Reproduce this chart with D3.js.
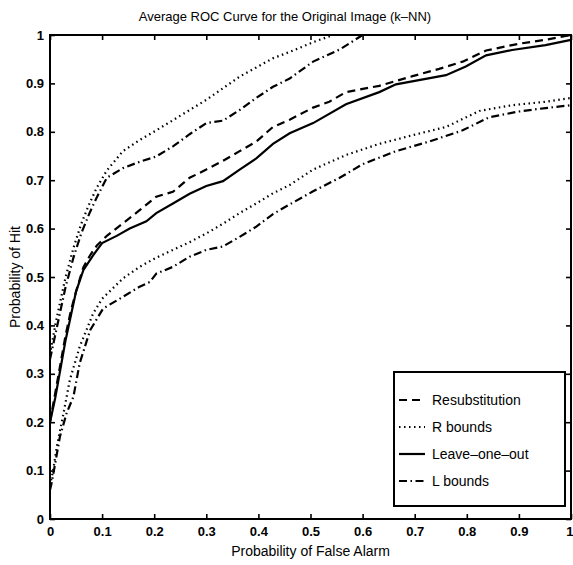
<!DOCTYPE html>
<html>
<head>
<style>
  body { margin: 0; background: #fff; font-family: "Liberation Sans", Arial, sans-serif; }
  svg text { font-family: "Liberation Sans", Arial, sans-serif; fill: #000; }
</style>
</head>
<body>
<div id="chart"></div>
<script src="https://d3js.org/d3.v7.min.js"></script>
<script>
// values: [probability of false alarm, probability of hit]
var resubstitution = [[0,0.2],[0.01,0.26],[0.02,0.32],[0.03,0.38],[0.04,0.43],[0.05,0.47],[0.064,0.52],[0.077,0.545],[0.09,0.565],[0.109,0.585],[0.14,0.611],[0.172,0.638],[0.204,0.666],[0.236,0.676],[0.268,0.705],[0.3,0.722],[0.332,0.74],[0.364,0.76],[0.396,0.78],[0.428,0.81],[0.46,0.825],[0.505,0.85],[0.536,0.862],[0.568,0.882],[0.632,0.895],[0.696,0.915],[0.747,0.93],[0.792,0.945],[0.837,0.968],[0.9,0.982],[0.95,0.99],[1,1]];
var leaveOneOut = [[0,0.2],[0.01,0.25],[0.02,0.31],[0.03,0.37],[0.04,0.42],[0.05,0.47],[0.064,0.514],[0.083,0.545],[0.1,0.57],[0.128,0.585],[0.153,0.6],[0.185,0.615],[0.204,0.632],[0.236,0.652],[0.268,0.672],[0.3,0.688],[0.332,0.698],[0.364,0.722],[0.396,0.745],[0.428,0.775],[0.46,0.797],[0.505,0.818],[0.568,0.857],[0.632,0.882],[0.664,0.898],[0.76,0.917],[0.798,0.935],[0.837,0.958],[0.887,0.969],[0.951,0.979],[1,0.99]];
var rUpper = [[0,0.34],[0.01,0.4],[0.019,0.446],[0.03,0.5],[0.045,0.56],[0.06,0.61],[0.075,0.65],[0.09,0.685],[0.109,0.72],[0.14,0.76],[0.172,0.783],[0.204,0.803],[0.236,0.824],[0.268,0.845],[0.3,0.866],[0.332,0.89],[0.364,0.914],[0.396,0.933],[0.428,0.952],[0.46,0.965],[0.505,0.985],[0.543,1]];
var rLower = [[0,0.07],[0.006,0.1],[0.013,0.149],[0.026,0.219],[0.038,0.287],[0.057,0.356],[0.083,0.425],[0.1,0.455],[0.14,0.497],[0.172,0.521],[0.204,0.54],[0.236,0.556],[0.268,0.572],[0.3,0.59],[0.332,0.61],[0.364,0.632],[0.396,0.652],[0.428,0.673],[0.46,0.69],[0.505,0.722],[0.568,0.752],[0.632,0.775],[0.696,0.793],[0.76,0.81],[0.824,0.843],[0.887,0.855],[0.951,0.862],[1,0.87]];
var lUpper = [[0,0.33],[0.01,0.38],[0.02,0.43],[0.03,0.48],[0.045,0.54],[0.06,0.59],[0.075,0.63],[0.09,0.665],[0.109,0.705],[0.14,0.725],[0.172,0.738],[0.204,0.749],[0.236,0.77],[0.268,0.795],[0.3,0.818],[0.332,0.823],[0.364,0.845],[0.396,0.87],[0.428,0.893],[0.46,0.91],[0.505,0.945],[0.556,0.97],[0.6,1]];
var lLower = [[0,0.06],[0.003,0.074],[0.01,0.115],[0.019,0.17],[0.032,0.219],[0.045,0.253],[0.057,0.322],[0.077,0.39],[0.102,0.435],[0.14,0.459],[0.172,0.48],[0.192,0.49],[0.204,0.507],[0.236,0.521],[0.268,0.542],[0.3,0.556],[0.332,0.563],[0.364,0.583],[0.396,0.604],[0.428,0.63],[0.46,0.65],[0.505,0.677],[0.556,0.705],[0.6,0.733],[0.664,0.76],[0.728,0.78],[0.792,0.803],[0.843,0.83],[0.9,0.842],[0.951,0.849],[1,0.855]];

var ticks = [0, 0.1, 0.2, 0.3, 0.4, 0.5, 0.6, 0.7, 0.8, 0.9, 1];
var legendLabels = ["Resubstitution", "R bounds", "Leave\u2013one\u2013out", "L bounds"];

var W = 573, H = 565;
var margin = {top: 35, right: 2, bottom: 46, left: 50};
var width = W - margin.left - margin.right,
    height = H - margin.top - margin.bottom;

var dashes = {
  dash: "8,5",
  dot: "1.5,3.5",
  solid: null,
  dashdot: "8,3.5,1.5,3.5"
};

var svg = d3.select("#chart").append("svg")
  .attr("width", W)
  .attr("height", H);

var g = svg.append("g")
  .attr("transform", "translate(" + margin.left + "," + margin.top + ")");

var x = d3.scaleLinear().domain([0, 1]).range([0, width]);
var y = d3.scaleLinear().domain([0, 1]).range([height, 0]);

function fmt(d) { return d === 0 ? "0" : d === 1 ? "1" : d3.format(".1f")(d); }

// axes, ticks pointing inwards like matlab
var xAxis = g.append("g")
  .attr("transform", "translate(0," + height + ")")
  .call(d3.axisBottom(x).tickValues(ticks).tickFormat(fmt).tickSizeInner(-5).tickSizeOuter(0).tickPadding(8));
g.append("g")
  .call(d3.axisTop(x).tickValues(ticks).tickFormat("").tickSizeInner(-5).tickSizeOuter(0));
g.append("g")
  .call(d3.axisLeft(y).tickValues(ticks).tickFormat(fmt).tickSizeInner(-5).tickSizeOuter(0).tickPadding(6));
g.append("g")
  .attr("transform", "translate(" + width + ",0)")
  .call(d3.axisRight(y).tickValues(ticks).tickFormat("").tickSizeInner(-5).tickSizeOuter(0));

g.selectAll(".domain").remove();
g.selectAll(".tick line").attr("stroke", "#000").attr("stroke-width", 1.6);
g.selectAll(".tick text").style("font-size", "13px").style("font-weight", "bold");

// last x label sits at the page edge, keep it inside
xAxis.selectAll(".tick text")
  .filter(function(d) { return d === 1; })
  .attr("text-anchor", "end")
  .attr("x", 2);

g.append("rect")
  .attr("width", width)
  .attr("height", height)
  .attr("fill", "none")
  .attr("stroke", "#000")
  .attr("stroke-width", 2);

var line = d3.line()
  .x(function(d) { return x(d[0]); })
  .y(function(d) { return y(d[1]); });

var series = [
  {data: rUpper, style: "dot"},
  {data: lUpper, style: "dashdot"},
  {data: resubstitution, style: "dash"},
  {data: leaveOneOut, style: "solid"},
  {data: rLower, style: "dot"},
  {data: lLower, style: "dashdot"}
];

g.selectAll(".curve")
  .data(series)
  .enter()
  .append("path")
    .attr("class", "curve")
    .attr("d", function(d) { return line(d.data); })
    .attr("fill", "none")
    .attr("stroke", "#000")
    .attr("stroke-width", 2.2)
    .attr("stroke-dasharray", function(d) { return dashes[d.style]; });

// titles
svg.append("text")
  .attr("x", 285)
  .attr("y", 21)
  .attr("text-anchor", "middle")
  .style("font-size", "13px")
  .text("Average ROC Curve for the Original Image (k\u2013NN)");

svg.append("text")
  .attr("x", margin.left + width / 2)
  .attr("y", 556)
  .attr("text-anchor", "middle")
  .style("font-size", "14px")
  .text("Probability of False Alarm");

svg.append("text")
  .attr("transform", "translate(20," + (margin.top + height / 2) + ") rotate(-90)")
  .attr("text-anchor", "middle")
  .style("font-size", "14px")
  .text("Probability of Hit");

// legend
var legend = svg.append("g").attr("transform", "translate(394,372)");
legend.append("rect")
  .attr("width", 171)
  .attr("height", 134)
  .attr("fill", "#fff")
  .attr("stroke", "#000")
  .attr("stroke-width", 2);

var legendStyles = ["dash", "dot", "solid", "dashdot"];
var items = legend.selectAll(".item")
  .data(legendLabels)
  .enter()
  .append("g")
    .attr("transform", function(d, i) { return "translate(0," + (28 + i * 27) + ")"; });

items.append("line")
  .attr("x1", 5).attr("x2", 31)
  .attr("stroke", "#000")
  .attr("stroke-width", 2.2)
  .attr("stroke-dasharray", function(d, i) { return dashes[legendStyles[i]]; });

items.append("text")
  .attr("x", 38)
  .attr("dy", "0.35em")
  .style("font-size", "14px")
  .text(function(d) { return d; });
</script>
</body>
</html>
